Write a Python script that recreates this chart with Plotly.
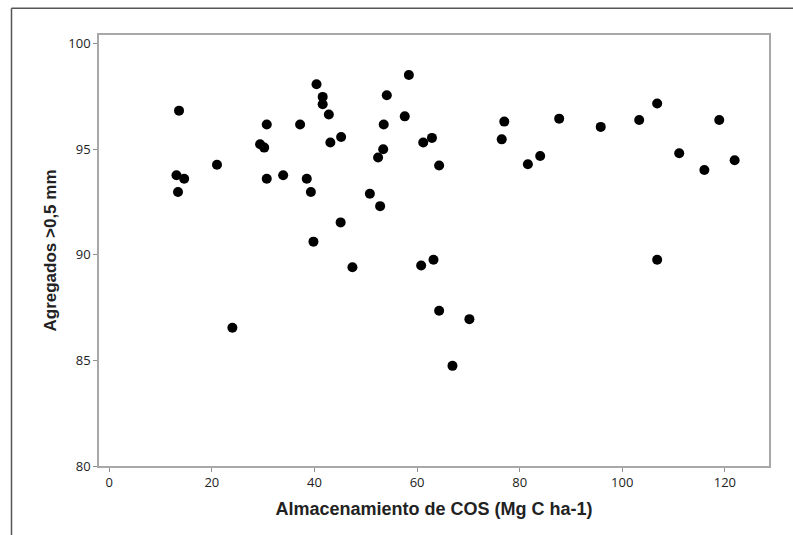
import plotly.graph_objects as go

# Almacenamiento de COS (Mg C ha-1)
cos_storage = [13.6, 13.1, 14.6, 13.4, 21.0, 29.4, 30.2, 30.7, 30.7, 33.9,
               37.2, 38.5, 39.3, 40.4, 41.6, 41.6, 42.8, 43.1, 45.2, 39.8,
               45.1, 47.4, 50.8, 52.8, 52.4, 53.4, 53.5, 54.1, 58.4, 57.6,
               61.2, 62.9, 64.3, 77.0, 76.5, 81.6, 84.0, 87.7, 95.8, 103.3,
               106.8, 118.9, 111.1, 116.0, 121.9, 106.8, 60.8, 63.2, 24.0, 64.3,
               70.2, 66.9]
# Agregados >0,5 mm
aggregates = [96.82, 93.76, 93.60, 92.97, 94.26, 95.23, 95.07, 96.16, 93.60, 93.76,
              96.16, 93.60, 92.97, 98.07, 97.47, 97.12, 96.64, 95.31, 95.57, 90.62,
              91.53, 89.41, 92.89, 92.30, 94.60, 94.99, 96.16, 97.55, 98.51, 96.55,
              95.31, 95.53, 94.22, 96.30, 95.46, 94.28, 94.67, 96.44, 96.05, 96.38,
              97.16, 96.38, 94.80, 94.01, 94.47, 89.76, 89.49, 89.76, 86.54, 87.35,
              86.95, 84.74]

x_ticks = [0, 20, 40, 60, 80, 100, 120]
y_ticks = [80, 85, 90, 95, 100]

fig = go.Figure()
fig.add_trace(go.Scatter(
    x=cos_storage, y=aggregates, mode="markers",
    marker=dict(color="black", size=10, line=dict(width=0)),
    showlegend=False,
))

axis_common = dict(
    showline=True, mirror=True, linecolor="#a8a8a8", linewidth=1.5,
    showgrid=False, zeroline=False,
    ticks="outside", ticklen=4, tickcolor="#909090", tickwidth=1,
    tickfont=dict(family="Open Sans", size=13, color="#222222"),
)

fig.update_layout(
    width=793, height=535,
    margin=dict(l=99, r=24, t=35, b=69),
    paper_bgcolor="white", plot_bgcolor="white",
    xaxis=dict(
        range=[-2, 128.6], tickvals=x_ticks,
        title=dict(text="Almacenamiento de COS (Mg C ha-1)", standoff=12,
                   font=dict(family="Liberation Sans", size=18, color="#222222", weight="bold")),
        **axis_common,
    ),
    yaxis=dict(
        range=[80, 100.4], tickvals=y_ticks,
        title=dict(text="Agregados >0,5 mm", standoff=7,
                   font=dict(family="Liberation Sans", size=17, color="#222222", weight="bold")),
        **axis_common,
    ),
    shapes=[
        dict(type="line", xref="paper", yref="paper", x0=-0.1306, x1=1.04,
             y0=1.0619, y1=1.0619, line=dict(color="#555555", width=1.5)),
        dict(type="line", xref="paper", yref="paper", x0=-0.1306, x1=-0.1306,
             y0=1.0619, y1=-0.17, line=dict(color="#555555", width=1.5)),
    ],
)

fig.write_html("out.html")
